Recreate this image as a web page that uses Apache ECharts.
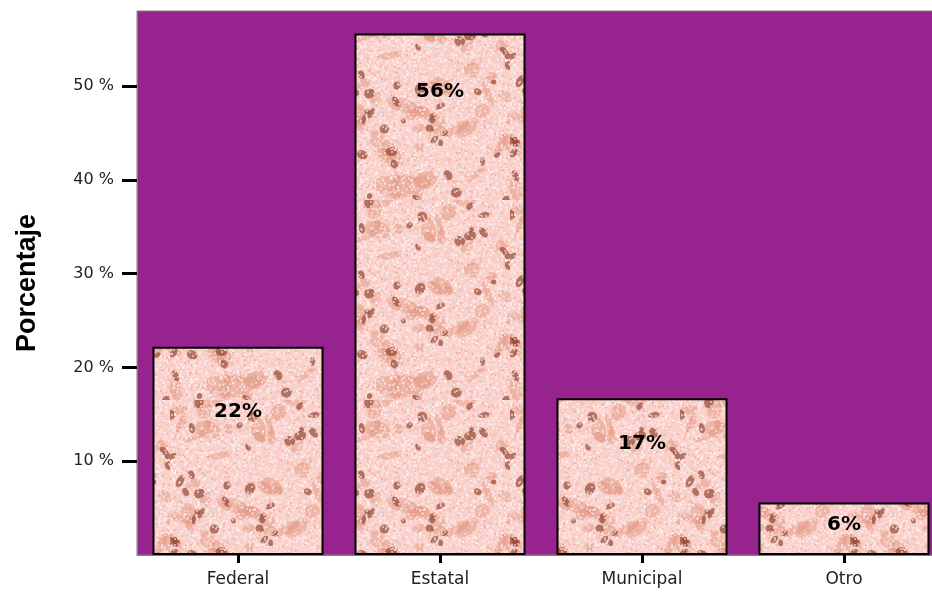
<!DOCTYPE html>
<html>
<head>
<meta charset="utf-8">
<script src="https://cdn.jsdelivr.net/npm/echarts@6/dist/echarts.min.js"></script>
<style>
html,body{margin:0;padding:0;background:#fff;overflow:hidden;width:932px;height:592px;}
#c{width:945px;height:592px;}
</style>
</head>
<body>
<div id="c"></div>
<script>
// ---- data ----
const categories = ['Federal', 'Estatal', 'Municipal', 'Otro'];
const percentValues = [22.2, 55.6, 16.7, 5.6];
const yTicks = [10, 20, 30, 40, 50];

// ---- styling helpers (not data) ----
const labelGap = [55, 48, 35, 12];

function makeTexture() {
  const w = 170, h = 200;
  const cv = document.createElement('canvas');
  cv.width = w; cv.height = h;
  const ctx = cv.getContext('2d');
  ctx.fillStyle = '#f9d0ca';
  ctx.fillRect(0, 0, w, h);
  let s = 12345;
  const rnd = () => { s = (s * 1103515245 + 12345) % 2147483648; return s / 2147483648; };
  // light speckles underneath
  for (let i = 0; i < 2600; i++) {
    const x = Math.floor(rnd() * w), y = Math.floor(rnd() * h);
    const t = rnd();
    ctx.fillStyle = t < 0.5 ? 'rgba(255,232,236,0.85)' : (t < 0.85 ? 'rgba(242,178,160,0.7)' : 'rgba(205,210,195,0.5)');
    ctx.fillRect(x, y, 2, 2);
  }
  // soft mid blotches
  for (let i = 0; i < 60; i++) {
    const x = rnd() * w, y = rnd() * h;
    ctx.fillStyle = 'rgba(222,135,105,0.35)';
    ctx.beginPath();
    ctx.ellipse(x, y, 4 + rnd() * 10, 3 + rnd() * 6, rnd() * 3, 0, Math.PI * 2);
    ctx.fill();
  }
  // dark blotches
  for (let i = 0; i < 50; i++) {
    const x = rnd() * w, y = rnd() * h;
    ctx.fillStyle = 'rgba(150,72,50,0.7)';
    ctx.beginPath();
    ctx.ellipse(x, y, 2.5 + rnd() * 4, 2 + rnd() * 3, rnd() * 3, 0, Math.PI * 2);
    ctx.fill();
  }
  // light speckles on top
  for (let i = 0; i < 1500; i++) {
    const x = Math.floor(rnd() * w), y = Math.floor(rnd() * h);
    ctx.fillStyle = 'rgba(255,236,238,0.55)';
    ctx.fillRect(x, y, 2, 2);
  }
  return cv;
}
const texture = makeTexture();

const chart = echarts.init(document.getElementById('c'), null, { renderer: 'canvas' });
chart.setOption({
  animation: false,
  grid: {
    left: 137, top: 11, bottom: 37, right: 0,
    show: true, backgroundColor: '#97238f',
    borderColor: '#808080', borderWidth: 1
  },
  xAxis: {
    type: 'category',
    data: categories,
    axisLine: { show: true, lineStyle: { color: '#808080', width: 1 } },
    axisTick: { show: true, alignWithLabel: true, length: 8, lineStyle: { color: '#000', width: 3 } },
    axisLabel: { color: '#222', fontSize: 17, fontFamily: 'DejaVu Sans, sans-serif', margin: 16 },
    splitLine: { show: false }
  },
  yAxis: {
    type: 'value',
    min: 0, max: 58, interval: 10,
    name: 'Porcentaje',
    nameLocation: 'middle',
    nameRotate: 90,
    nameGap: 96,
    nameTextStyle: { color: '#000', fontSize: 27, fontWeight: 'bold', fontFamily: 'Liberation Sans Narrow, Liberation Sans, Arial, sans-serif' },
    axisLine: { show: true, lineStyle: { color: '#808080', width: 1 } },
    axisTick: { show: true, length: 15, customValues: yTicks, lineStyle: { color: '#000', width: 3 } },
    axisLabel: {
      color: '#222', fontSize: 16, fontFamily: 'DejaVu Sans, sans-serif', margin: 23,
      customValues: yTicks,
      formatter: v => v + ' %'
    },
    splitLine: { show: false }
  },
  series: [{
    type: 'bar',
    barWidth: 171,
    data: percentValues.map((v, i) => ({
      value: v,
      label: { distance: labelGap[i] }
    })),
    itemStyle: {
      color: { image: texture, repeat: 'repeat' },
      borderColor: '#000', borderWidth: 2
    },
    label: {
      show: true,
      position: 'insideTop',
      color: '#000',
      fontSize: 20,
      fontWeight: 'bold',
      fontFamily: 'DejaVu Sans, sans-serif',
      formatter: p => Math.round(p.value) + '%'
    }
  }]
});
</script>
</body>
</html>
